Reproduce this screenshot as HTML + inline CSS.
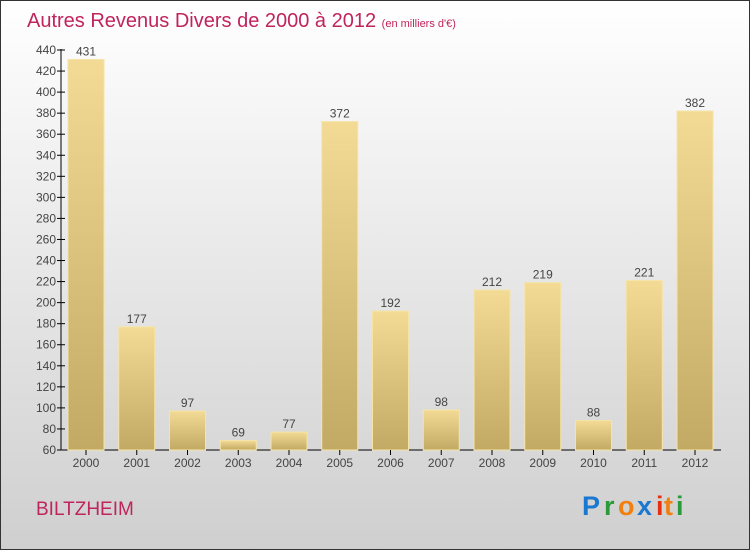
<!DOCTYPE html>
<html><head><meta charset="utf-8"><style>
body{margin:0;}
svg{display:block;font-family:"Liberation Sans",sans-serif;}
</style></head><body>
<svg id="c" width="750" height="550" xmlns="http://www.w3.org/2000/svg">
<defs>
<linearGradient id="bg" x1="0" y1="0" x2="0" y2="1"><stop offset="0" stop-color="#ffffff"/><stop offset="1" stop-color="#cfcfcf"/></linearGradient>
<linearGradient id="bar" x1="0" y1="0" x2="0" y2="1"><stop offset="0" stop-color="#f3db95"/><stop offset="1" stop-color="#c2a964"/></linearGradient>
</defs>
<rect x="0.5" y="0.5" width="749" height="549" fill="url(#bg)" stroke="#333"/>
<text x="27" y="27" font-size="20" fill="#c0245c">Autres Revenus Divers de 2000 à 2012 <tspan font-size="11">(en milliers d'€)</tspan></text>
<g id="g"></g>
<text x="36" y="515" font-size="19" fill="#c0245c">BILTZHEIM</text>
<g font-size="27" font-weight="bold">
<text x="582" y="515" fill="#1a78d0">P</text><text x="604" y="515" fill="#2a9a3a">r</text><text x="618" y="515" fill="#f08010">o</text><text x="637" y="515" fill="#1a78d0">x</text><text x="656" y="515" fill="#e83010">i</text><text x="664" y="515" fill="#f08010">t</text><text x="676" y="515" fill="#2a9a3a">i</text>
</g>
</svg>
<script>
const years=["2000","2001","2002","2003","2004","2005","2006","2007","2008","2009","2010","2011","2012"];
const values=[431,177,97,69,77,372,192,98,212,219,88,221,382];
const ticks=[60,80,100,120,140,160,180,200,220,240,260,280,300,320,340,360,380,400,420,440];
const ns="http://www.w3.org/2000/svg",g=document.getElementById('g');
const y0=450,y1=50,vmin=60,vmax=440;
const Y=v=>y0-(v-vmin)*(y0-y1)/(vmax-vmin);
const X=i=>86+i*50.75;
function mk(t,a,txt){const e=document.createElementNS(ns,t);for(const k in a)e.setAttribute(k,a[k]);if(txt!=null)e.textContent=txt;g.appendChild(e);return e;}
let e=mk('line',{x1:61,y1:49,x2:61,y2:450,stroke:'#000'});


e=mk('line',{x1:61,y1:450,x2:721,y2:450,stroke:'#000'});


ticks.forEach(t=>{const y=Y(t);
e=mk('line',{x1:57,y1:y,x2:65,y2:y,stroke:'#000'});


e=mk('text',{x:56,y:y+4,'font-size':12,fill:'#444','text-anchor':'end'},t);


});
values.forEach((v,i)=>{const x=X(i),y=Y(v);
e=mk('rect',{x:x-18,y:y,width:36,height:y0-y,fill:'url(#bar)',stroke:'#f5e4a8','stroke-width':1});


e=mk('text',{x:x,y:y-4,'font-size':12,fill:'#444','text-anchor':'middle'},String(v));


e=mk('line',{x1:x,y1:450,x2:x,y2:455,stroke:'#000'});


e=mk('text',{x:x,y:467,'font-size':12,fill:'#444','text-anchor':'middle'},years[i]);


});
</script>
</body></html>
